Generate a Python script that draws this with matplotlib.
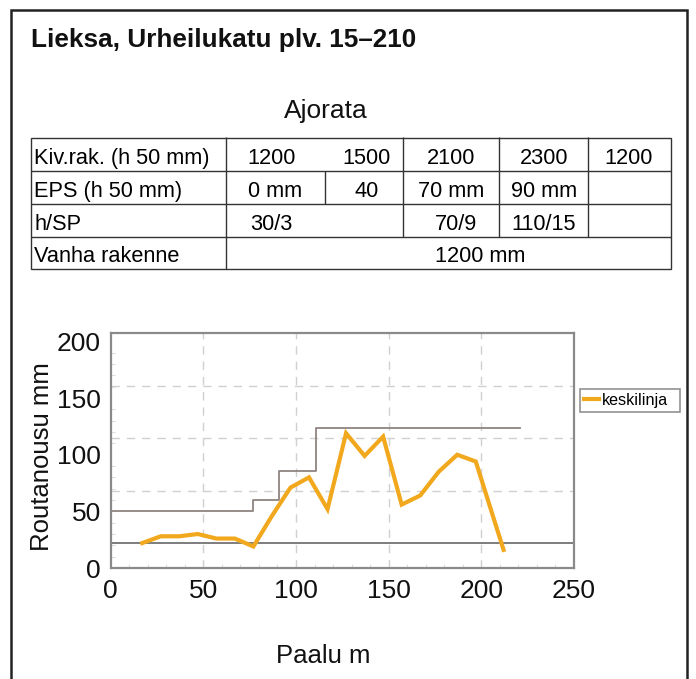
"""
Lieksa, Urheilukatu: frost heave (routanousu) along the centre line,
with the structure table above the chart.
"""

import matplotlib

matplotlib.use("Agg")
import matplotlib.pyplot as plt
from matplotlib.patches import Rectangle
from matplotlib.ticker import MultipleLocator

plt.rcParams["font.family"] = ["Liberation Sans", "DejaVu Sans"]

TITLE = "Lieksa, Urheilukatu plv. 15–210"
SECTION = "Ajorata"

# structure table
row_labels = ["Kiv.rak. (h 50 mm)", "EPS (h 50 mm)", "h/SP", "Vanha rakenne"]
kiv_values = ["1200", "1500", "2100", "2300", "1200"]
eps_values = ["0 mm", "40", "70 mm", "90 mm"]
hsp_values = ["30/3", "70/9", "110/15"]
old_structure = "1200 mm"

# chart data
paalu = [17, 27, 37, 47, 57, 67, 77, 87, 97, 107, 117, 127, 137, 147, 157, 167, 177, 187, 197, 212]
keskilinja = [22, 28, 28, 30, 26, 26, 19, 46, 71, 80, 52, 119, 99, 116, 56, 64, 85, 100, 94, 16]
limit_x = [0, 77, 91, 111, 221]
limit_y = [50, 60, 86, 124, 124]
base_level = 22
grid_levels = [68, 115, 161]
x_ticks = [0, 50, 100, 150, 200, 250]
y_ticks = [0, 50, 100, 150, 200]

W, H = 696, 679


def fx(px):
    return px / W


def fy(py):
    return 1 - py / H


def main() -> None:
    fig = plt.figure(figsize=(W / 100, H / 100), dpi=100)

    # outer frame (open at the bottom)
    fig.add_artist(Rectangle((fx(11), -0.1), fx(687) - fx(11), fy(10) + 0.1,
                             transform=fig.transFigure, fill=False,
                             lw=1.8, ec="#222222", clip_on=False))

    fig.text(fx(31), fy(46.5), TITLE, fontsize=18.8, fontweight="bold",
             va="baseline", ha="left", color="#111111")
    fig.text(fx(326), fy(118), SECTION, fontsize=19, va="baseline",
             ha="center", color="#111111")

    # --- table, drawn in pixel coordinates ---
    t_left, t_right, t_top, t_bot = 31, 670.5, 137.5, 269.5
    tax = fig.add_axes([fx(t_left), fy(t_bot), fx(t_right) - fx(t_left),
                        fy(t_top) - fy(t_bot)])
    tax.set_xlim(t_left, t_right)
    tax.set_ylim(t_bot, t_top)
    tax.axis("off")
    rows = [137.5, 171.5, 204, 237.3, 269.5]
    lc = "#333333"
    lw = 1.0
    line_kw = dict(color=lc, lw=lw, clip_on=False, solid_capstyle="butt")
    tax.add_patch(Rectangle((t_left, t_top), t_right - t_left, t_bot - t_top,
                            fill=False, ec=lc, lw=lw, clip_on=False))
    for y in rows[1:-1]:
        tax.plot([t_left, t_right], [y, y], **line_kw)
    tax.plot([225.7, 225.7], [t_top, t_bot], **line_kw)
    tax.plot([325, 325], [rows[1], rows[2]], **line_kw)
    for x in (402.7, 498.7, 588.3):
        tax.plot([x, x], [t_top, rows[3]], **line_kw)

    fs = 15.7
    baselines = [164.5, 197.5, 230.5, 262.5]
    for lab, b in zip(row_labels, baselines):
        tax.text(34, b, lab, fontsize=fs, va="baseline", ha="left")
    for val, x in zip(kiv_values, [272, 367, 451, 544, 629]):
        tax.text(x, baselines[0], val, fontsize=fs, va="baseline", ha="center")
    for val, x in zip(eps_values, [275, 367, 451, 544]):
        tax.text(x, baselines[1], val, fontsize=fs, va="baseline", ha="center")
    for val, x in zip(hsp_values, [271, 456, 544]):
        tax.text(x, baselines[2], val, fontsize=fs, va="baseline", ha="center")
    tax.text(480, baselines[3], old_structure, fontsize=fs, va="baseline", ha="center")

    # --- chart ---
    ax = fig.add_axes([fx(110.7), fy(568), fx(574) - fx(110.7), fy(333) - fy(568)])
    ax.set_xlim(0, 250)
    ax.set_ylim(0, 207.5)

    for v in x_ticks[1:-1]:
        ax.axvline(v, color="#d0d0d0", lw=1.0, ls=(0, (6, 5)), zorder=1)
    for v in grid_levels:
        ax.axhline(v, color="#d0d0d0", lw=1.0, ls=(0, (6, 5)), zorder=1)

    ax.axhline(base_level, color="#7d7d7d", lw=1.4, zorder=2)
    ax.plot(limit_x, limit_y, drawstyle="steps-post", color="#8f8480",
            lw=1.3, zorder=2)
    ax.plot(paalu, keskilinja, color="#f2a81d", lw=3.0, zorder=3,
            solid_joinstyle="miter", label="keskilinja")

    ax.set_xticks(x_ticks)
    ax.set_yticks(y_ticks)
    ax.xaxis.set_minor_locator(MultipleLocator(10))
    ax.yaxis.set_minor_locator(MultipleLocator(10))
    ax.tick_params(which="major", length=0, labelsize=19, colors="#111111")
    ax.tick_params(axis="x", which="major", pad=8)
    ax.tick_params(axis="y", which="major", pad=7)
    ax.tick_params(which="minor", direction="in", length=3, color="#dddddd",
                   width=0.8)
    for s in ax.spines.values():
        s.set_color("#8a8a8a")
        s.set_linewidth(1.6)

    fig.text(fx(41.7), fy(456.5), "Routanousu mm", rotation=90, fontsize=18.5,
             ha="center", va="center", color="#111111")
    fig.text(fx(323), fy(663), "Paalu m", fontsize=18.5, ha="center",
             va="baseline", color="#111111")

    leg = ax.legend(loc="upper left",
                    bbox_to_anchor=(fx(580), fy(389) - 0.0001, fx(680) - fx(580), 0.0001),
                    bbox_transform=fig.transFigure, mode="expand",
                    fontsize=11.6, frameon=True, fancybox=False,
                    handlelength=0.9, handletextpad=0.2, borderpad=0.25,
                    borderaxespad=0)
    leg.get_frame().set_edgecolor("#777777")
    leg.get_frame().set_linewidth(1.2)

    fig.savefig("out.png", dpi=100)
    plt.close(fig)


if __name__ == "__main__":
    main()
